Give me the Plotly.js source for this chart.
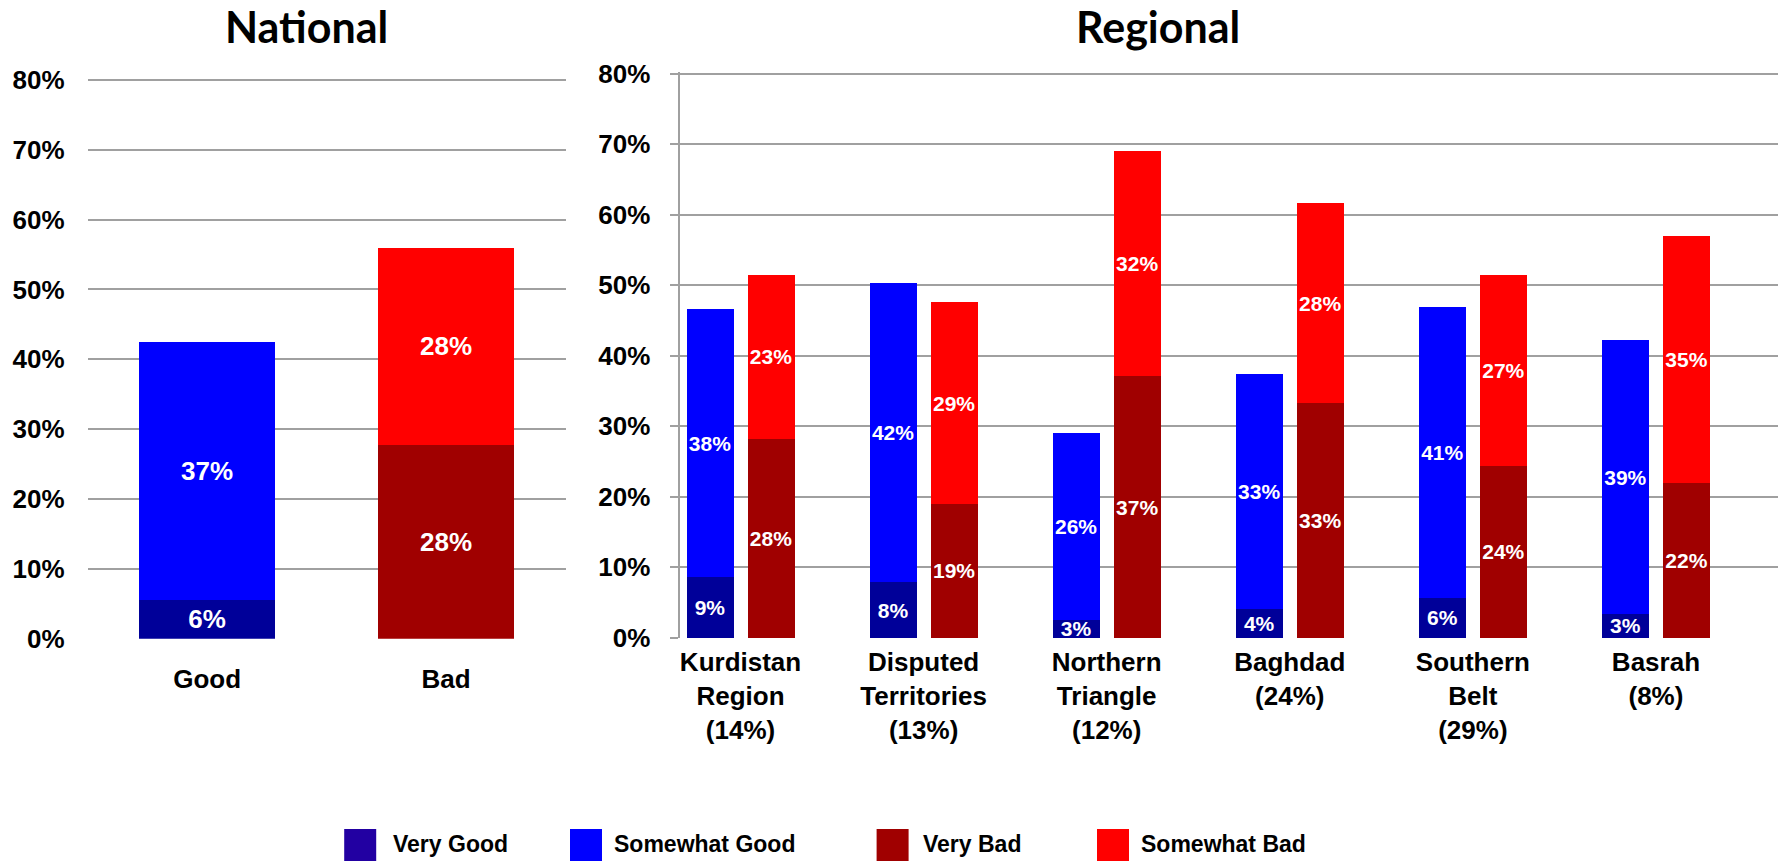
<!DOCTYPE html>
<html><head><meta charset="utf-8">
<script src="https://cdn.plot.ly/plotly-3.0.1.min.js"></script>
<style>html,body{margin:0;padding:0;background:#fff}#chart{width:1783px;height:861px}</style>
</head><body><div id="chart"></div>
<script>
// ---- data ----
const nationalCategories = ['Good', 'Bad'];
const natVeryGood = [5.6];
const natSomewhatGood = [36.9];
const natVeryBad = [27.8];
const natSomewhatBad = [28.1];

const regionLabels = ['Kurdistan<br>Region<br>(14%)', 'Disputed<br>Territories<br>(13%)', 'Northern<br>Triangle<br>(12%)', 'Baghdad<br>(24%)', 'Southern<br>Belt<br>(29%)', 'Basrah<br>(8%)'];
const regVeryGood = [8.6, 7.9, 2.6, 4.1, 5.7, 3.4];
const regSomewhatGood = [38.0, 42.4, 26.4, 33.3, 41.2, 38.8];
const regVeryBad = [28.2, 19.0, 37.1, 33.3, 24.4, 21.9];
const regSomewhatBad = [23.3, 28.6, 31.9, 28.3, 27.1, 35.1];

const yTickVals = [0, 10, 20, 30, 40, 50, 60, 70, 80];
const yTickText = ['0%', '10%', '20%', '30%', '40%', '50%', '60%', '70%', '80%'];
const legendNames = ['Very Good', 'Somewhat Good', 'Very Bad', 'Somewhat Bad'];
const barColors = ['#000099', '#0000FF', '#A00000', '#FF0000'];
const legendColors = ['#2200A2', '#0000FF', '#A00000', '#FF0000'];

// ---- layout helpers ----
const W = 1783, H = 861;
const px = v => v / W;
const py = v => (H - v) / H;
const FONT = 'Liberation Sans, Arial, sans-serif';

const goodX = regionLabels.map((_, i) => 3 * i);
const badX = regionLabels.map((_, i) => 3 * i + 1);
const tickX = regionLabels.map((_, i) => 3 * i + 0.5);

function barTrace(x, y, color, xa, ya, width, fs) {
  return {
    type: 'bar', x: x, y: y, xaxis: xa, yaxis: ya, width: width,
    marker: {color: color, line: {width: 0}},
    texttemplate: '%{y:.0f}%', textposition: 'inside', insidetextanchor: 'middle',
    textangle: 0, constraintext: 'none',
    textfont: {family: FONT, size: fs, color: '#ffffff', weight: 700},
    hoverinfo: 'skip', showlegend: false
  };
}

const traces = [
  barTrace([nationalCategories[0]], natVeryGood, barColors[0], 'x', 'y', 0.571, 26),
  barTrace([nationalCategories[0]], natSomewhatGood, barColors[1], 'x', 'y', 0.571, 26),
  barTrace([nationalCategories[1]], natVeryBad, barColors[2], 'x', 'y', 0.571, 26),
  barTrace([nationalCategories[1]], natSomewhatBad, barColors[3], 'x', 'y', 0.571, 26),
  barTrace(goodX, regVeryGood, barColors[0], 'x2', 'y2', 0.77, 21),
  barTrace(goodX, regSomewhatGood, barColors[1], 'x2', 'y2', 0.77, 21),
  barTrace(badX, regVeryBad, barColors[2], 'x2', 'y2', 0.77, 21),
  barTrace(badX, regSomewhatBad, barColors[3], 'x2', 'y2', 0.77, 21)
];

const gridColor = '#a0a0a0';
const tickFont = {family: FONT, size: 26, color: '#000000', weight: 700};
const titleFont = {family: 'Lato, ' + FONT, size: 43, color: '#000', weight: 700};

const annotations = [
  {text: 'National', xref: 'paper', yref: 'paper', x: px(306.6), y: 1, xanchor: 'center', yanchor: 'top', showarrow: false,
   borderpad: 0, font: titleFont},
  {text: 'Regional', xref: 'paper', yref: 'paper', x: px(1158.3), y: 1, xanchor: 'center', yanchor: 'top', showarrow: false,
   borderpad: 0, font: titleFont}
];
const shapes = [];
const legSwatchX = [344.2, 570, 876.6, 1097];
const legTextX = [391, 612, 921, 1139];
legendNames.forEach((n, i) => {
  shapes.push({type: 'rect', xref: 'paper', yref: 'paper', x0: px(legSwatchX[i]), x1: px(legSwatchX[i] + 32), y0: py(829), y1: py(861),
    fillcolor: legendColors[i], line: {width: 0}});
  annotations.push({text: n, xref: 'paper', yref: 'paper', x: px(legTextX[i]), y: py(844), xanchor: 'left', yanchor: 'middle', showarrow: false,
    font: {family: FONT, size: 23, color: '#000', weight: 700}});
});

const layout = {
  width: W, height: H, margin: {l: 0, r: 0, t: 0, b: 0},
  paper_bgcolor: '#ffffff', plot_bgcolor: 'rgba(0,0,0,0)',
  barmode: 'stack', showlegend: false,
  xaxis: {domain: [px(87.6), px(565.6)], anchor: 'y', type: 'category', showgrid: false, showline: false, zeroline: false,
    ticks: '', tickfont: tickFont, ticklabelstandoff: 22, fixedrange: true},
  yaxis: {domain: [py(638.7), py(78.5)], anchor: 'x', range: [0, 80.2], tickvals: yTickVals, ticktext: yTickText,
    showgrid: true, gridcolor: gridColor, gridwidth: 2, zeroline: false, showline: false, ticks: '',
    tickfont: tickFont, ticklabelstandoff: 22, fixedrange: true},
  xaxis2: {domain: [px(679.5), px(1778)], anchor: 'y2', range: [-0.5, 17.5], tickvals: tickX, ticktext: regionLabels,
    showgrid: false, showline: false, zeroline: false, ticks: '', tickfont: tickFont, ticklabelstandoff: 6, fixedrange: true},
  yaxis2: {domain: [py(637.9), py(72.3)], anchor: 'x2', range: [0, 80.2], tickvals: yTickVals, ticktext: yTickText,
    showgrid: true, gridcolor: gridColor, gridwidth: 2, zeroline: false, showline: true, linecolor: gridColor, linewidth: 2,
    ticks: 'outside', ticklen: 8, tickwidth: 2, tickcolor: gridColor,
    tickfont: tickFont, ticklabelstandoff: 14, fixedrange: true},
  annotations: annotations, shapes: shapes
};

Plotly.newPlot('chart', traces, layout, {staticPlot: true, displayModeBar: false});
</script>
</body></html>
